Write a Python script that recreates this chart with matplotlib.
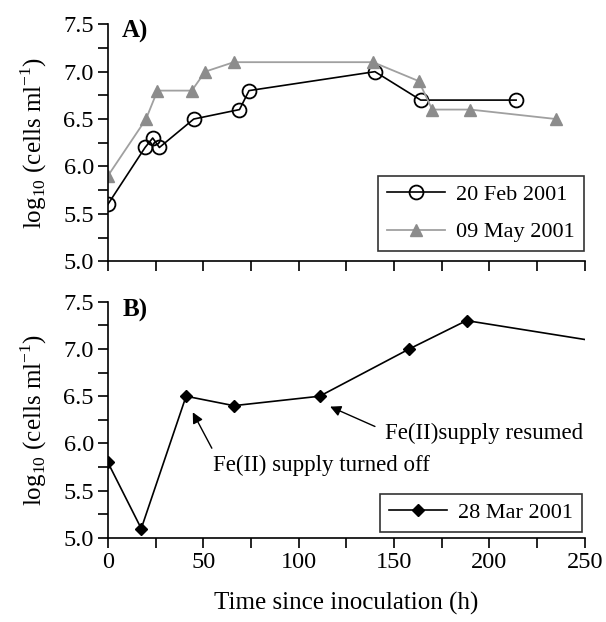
import matplotlib
matplotlib.use("Agg")
import matplotlib.pyplot as plt
from matplotlib.ticker import MultipleLocator

plt.rcParams["font.family"] = ["Liberation Serif", "DejaVu Serif"]
plt.rcParams["mathtext.fontset"] = "custom"
plt.rcParams["mathtext.rm"] = "Liberation Serif"

# Panel A
feb_t = [0, 19.5, 23.5, 27, 45, 69, 74, 140, 164, 214]
feb_v = [5.6, 6.2, 6.3, 6.2, 6.5, 6.6, 6.8, 7.0, 6.7, 6.7]
may_t = [0, 20, 26, 44, 51, 66, 139, 163, 170, 190, 235]
may_v = [5.9, 6.5, 6.8, 6.8, 7.0, 7.1, 7.1, 6.9, 6.6, 6.6, 6.5]

# Panel B
mar_t = [0, 17.5, 41, 66, 111, 158, 188, 250]
mar_v = [5.8, 5.1, 6.5, 6.4, 6.5, 7.0, 7.3, 7.1]

ylab = r"log$_{10}$ (cells ml$^{-1}$)"

fig = plt.figure(figsize=(6.06, 6.22), dpi=100)
ax1 = fig.add_axes([0.178, 0.580, 0.787, 0.381])
ax2 = fig.add_axes([0.178, 0.135, 0.787, 0.380])

for ax in (ax1, ax2):
    ax.set_xlim(0, 250)
    ax.set_ylim(5.0, 7.5)
    ax.spines["top"].set_visible(False)
    ax.spines["right"].set_visible(False)
    ax.xaxis.set_major_locator(MultipleLocator(50))
    ax.xaxis.set_minor_locator(MultipleLocator(25))
    ax.yaxis.set_major_locator(MultipleLocator(0.5))
    ax.yaxis.set_minor_locator(MultipleLocator(0.25))
    ax.tick_params(which="both", direction="out", length=7, width=1.2,
                   labelsize=17.5, pad=3)
    ax.yaxis.set_major_formatter(matplotlib.ticker.FormatStrFormatter("%.1f"))
    ax.set_ylabel(ylab, fontsize=18, labelpad=10)
    for s in ax.spines.values():
        s.set_linewidth(1.2)

ax1.plot(feb_t, feb_v, color="black", lw=1.2, marker="o", ms=10,
         mfc="none", mec="black", mew=1.3, label="20 Feb 2001")
ax1.plot(may_t, may_v, color="#a0a0a0", lw=1.3, marker="^", ms=8.5,
         mfc="#8c8c8c", mec="#8c8c8c", label="09 May 2001")
ax1.tick_params(axis="x", labelbottom=False)
ax1.text(0.03, 1.017, "A)", transform=ax1.transAxes, fontsize=18,
         fontweight="bold", va="top")
leg1 = ax1.legend(loc="lower right", fontsize=16, frameon=True, fancybox=False,
                  edgecolor="black", handlelength=2.6, handletextpad=0.5,
                  borderaxespad=0, labelspacing=0.75,
                  bbox_to_anchor=(0.998, 0.042))
leg1.get_frame().set_linewidth(1.2)

ax2.plot(mar_t, mar_v, color="black", lw=1.2, marker="D", ms=6.5,
         markevery=list(range(len(mar_t) - 1)), label="28 Mar 2001")
ax2.text(0.03, 1.01, "B)", transform=ax2.transAxes, fontsize=18,
         fontweight="bold", va="top")
ax2.set_xticks([0, 50, 100, 150, 200, 250])
ax2.set_xlabel("Time since inoculation (h)", fontsize=18, labelpad=14)
leg2 = ax2.legend(loc="lower right", fontsize=16, frameon=True, fancybox=False,
                  edgecolor="black", handlelength=2.6, handletextpad=0.5,
                  borderaxespad=0, bbox_to_anchor=(0.994, 0.026))
leg2.get_frame().set_linewidth(1.2)

# arrows and their labels
arrow = dict(arrowstyle="-|>", color="black", lw=1.0, shrinkA=0, shrinkB=0,
             mutation_scale=16)
ax2.annotate("", xy=(44.5, 6.33), xytext=(54.5, 5.95), arrowprops=arrow)
ax2.text(112, 5.77, "Fe(II) supply turned off", fontsize=16.5,
         ha="center", va="center")
ax2.annotate("", xy=(116.5, 6.39), xytext=(140, 6.18), arrowprops=arrow)
ax2.text(197, 6.11, "Fe(II)supply resumed", fontsize=16.5,
         ha="center", va="center")

fig.savefig("out.png", dpi=100)
